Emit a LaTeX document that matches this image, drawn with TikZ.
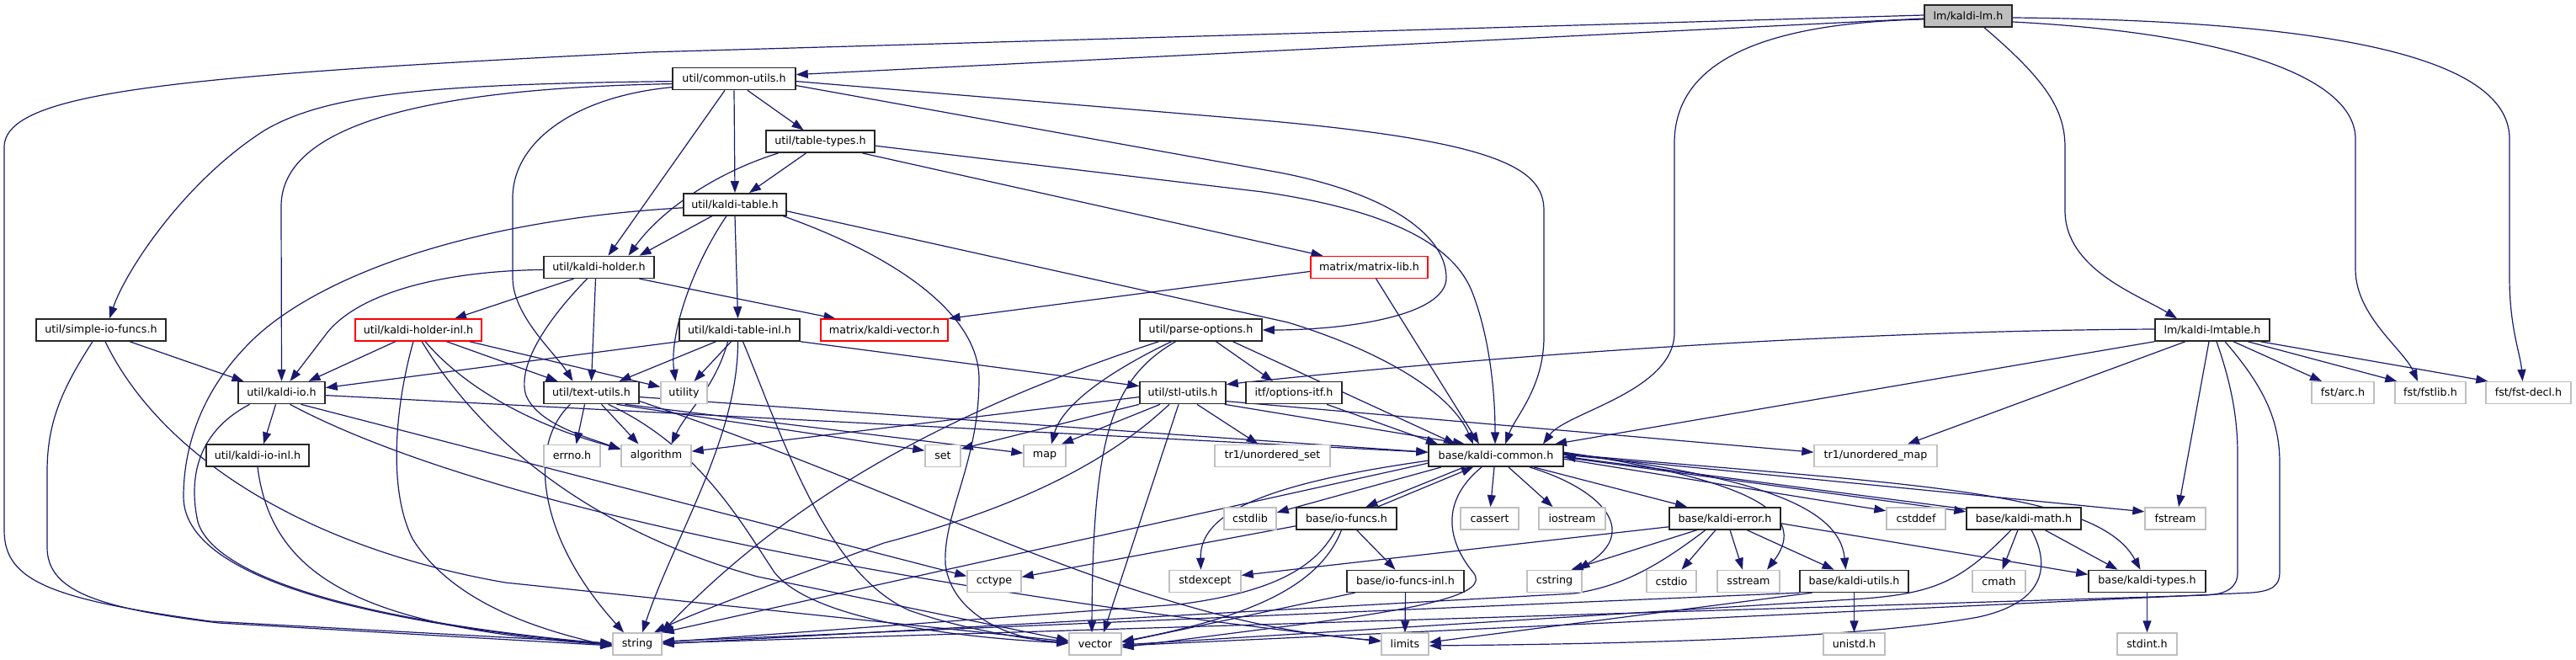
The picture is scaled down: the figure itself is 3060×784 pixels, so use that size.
\documentclass[tikz,border=0pt]{standalone}
\usepackage{fontspec}
\setmainfont{DejaVu Sans}
\usetikzlibrary{arrows.meta}
\definecolor{edgec}{HTML}{191970}
\definecolor{greyb}{HTML}{BFBFBF}
\pgfdeclarelayer{bg}
\pgfdeclarelayer{paper}
\pgfsetlayers{paper,bg,main}
\begin{document}
\begin{tikzpicture}[x=1pt,y=-1pt,
  box/.style={rectangle, inner sep=0pt, minimum height=26pt, font=\fontsize{12.7}{15}\selectfont, fill=white},
  wd/.style={minimum width=#1pt},
  nb/.style={box, draw=black!85, line width=1.5pt},
  nr/.style={box, draw=red, line width=1.1pt},
  ng/.style={box, draw=greyb, line width=1.4pt},
  nl/.style={box, draw=black!85, fill=greyb, line width=1.5pt},
  lnk/.style={draw=edgec, line width=1.2pt, -{Triangle[length=14pt,width=10pt]}}]
\begin{pgfonlayer}{paper}
\fill[white] (0,0) rectangle (3060,784);
\end{pgfonlayer}
\useasboundingbox (0,0) rectangle (3060,784);
% nodes
\node[nl, wd=104] (lm) at (2338,19) {lm/kaldi-lm.h};
\node[nb, wd=146] (cu) at (872,93.6) {util/common-utils.h};
\node[nb, wd=129] (tt) at (974.5,168.2) {util/table-types.h};
\node[nb, wd=122] (kt) at (873,242.8) {util/kaldi-table.h};
\node[nb, wd=131] (kh) at (711.5,317.4) {util/kaldi-holder.h};
\node[nr, wd=139] (ml) at (1626.5,317.4) {matrix/matrix-lib.h};
\node[nb, wd=154] (sio) at (120,392) {util/simple-io-funcs.h};
\node[nr, wd=150] (khi) at (497,392) {util/kaldi-holder-inl.h};
\node[nb, wd=143] (kti) at (878.5,392) {util/kaldi-table-inl.h};
\node[nr, wd=151] (kv) at (1050.5,392) {matrix/kaldi-vector.h};
\node[nb, wd=145] (po) at (1426.5,392) {util/parse-options.h};
\node[nb, wd=136] (lmt) at (2628,392) {lm/kaldi-lmtable.h};
\node[nb, wd=103] (kio) at (334.5,466.6) {util/kaldi-io.h};
\node[nb, wd=113] (tu) at (702.5,466.6) {util/text-utils.h};
\node[ng, wd=55] (util) at (812.5,466.6) {utility};
\node[nb, wd=102] (stl) at (1405,466.6) {util/stl-utils.h};
\node[nb, wd=114] (itf) at (1537,466.6) {itf/options-itf.h};
\node[ng, wd=74] (arc) at (2783,466.6) {fst/arc.h};
\node[ng, wd=84] (fstlib) at (2887,466.6) {fst/fstlib.h};
\node[ng, wd=101] (fdecl) at (3003.5,466.6) {fst/fst-decl.h};
\node[nb, wd=122] (kioi) at (306,541.2) {util/kaldi-io-inl.h};
\node[ng, wd=67] (errno) at (679.5,541.2) {errno.h};
\node[ng, wd=83] (algo) at (779.5,541.2) {algorithm};
\node[ng, wd=42] (set) at (1120,541.2) {set};
\node[ng, wd=50] (map) at (1241,541.2) {map};
\node[ng, wd=137] (tus) at (1511.5,541.2) {tr1/unordered\_set};
\node[nb, wd=160] (kc) at (1777,541.2) {base/kaldi-common.h};
\node[ng, wd=146] (tum) at (2228,541.2) {tr1/unordered\_map};
\node[ng, wd=62] (cstdlib) at (1485,615.8) {cstdlib};
\node[nb, wd=119] (iof) at (1599.5,615.8) {base/io-funcs.h};
\node[ng, wd=69] (cassert) at (1769.5,615.8) {cassert};
\node[ng, wd=79] (iostream) at (1867.5,615.8) {iostream};
\node[nb, wd=132] (ke) at (2049,615.8) {base/kaldi-error.h};
\node[ng, wd=70] (cstddef) at (2276,615.8) {cstddef};
\node[nb, wd=136] (km) at (2404,615.8) {base/kaldi-math.h};
\node[ng, wd=72] (fstream) at (2584,615.8) {fstream};
\node[ng, wd=64] (cctype) at (1181,690.4) {cctype};
\node[ng, wd=85] (stdexcept) at (1431.5,690.4) {stdexcept};
\node[nb, wd=139] (iofi) at (1669.5,690.4) {base/io-funcs-inl.h};
\node[ng, wd=65] (cstring) at (1846.5,690.4) {cstring};
\node[ng, wd=59] (cstdio) at (1985.5,690.4) {cstdio};
\node[ng, wd=74] (sstream) at (2077,690.4) {sstream};
\node[nb, wd=129] (ku) at (2202.5,690.4) {base/kaldi-utils.h};
\node[ng, wd=63] (cmath) at (2374.5,690.4) {cmath};
\node[nb, wd=139] (kty) at (2550.5,690.4) {base/kaldi-types.h};
\node[ng, wd=58] (string) at (757,765) {string};
\node[ng, wd=62] (vector) at (1301,765) {vector};
\node[ng, wd=56] (limits) at (1669,765) {limits};
\node[ng, wd=73] (unistd) at (2202.5,765) {unistd.h};
\node[ng, wd=71] (stdint) at (2550.5,765) {stdint.h};
\begin{pgfonlayer}{bg}
% lm
\draw[lnk] ([yshift=-3]lm.west) -- ([yshift=5]cu.east);
\draw[lnk] ([yshift=1]lm.west) -- (770,62) .. controls (200,90) and (5,110) .. (5,175) -- (5,630) .. controls (5,690) and (60,712) .. (250,738) -- ([yshift=1]string.west);
\draw[lnk] ([yshift=-4]lm.west) .. controls (2060,28) and (1989,90) .. (1989,170) -- (1989,395) .. controls (1989,465) and (1860,490) .. ([xshift=56]kc.north);
\draw[lnk] ([xshift=19]lm.south) .. controls (2430,95) and (2453,130) .. (2453,175) -- (2453,250) .. controls (2453,320) and (2540,350) .. ([xshift=-42]lmt.north);
\draw[lnk] ([yshift=-7]lm.east) .. controls (2660,40) and (2798,95) .. (2798,165) -- (2798,320) .. controls (2798,375) and (2855,415) .. ([xshift=-15]fstlib.north);
\draw[lnk] ([yshift=-2]lm.east) .. controls (2820,25) and (2981,80) .. (2981,165) -- (2981,330) .. controls (2981,390) and (2994,420) .. ([xshift=-7]fdecl.north);
% common-utils
\draw[lnk] ([yshift=-3]cu.west) .. controls (520,100) and (390,110) .. (314,155) .. controls (220,215) and (150,320) .. ([xshift=10]sio.north);
\draw[lnk] ([yshift=-6]cu.west) .. controls (500,105) and (334,150) .. (334,245) -- (kio.north);
\draw[lnk] ([yshift=-10]cu.west) .. controls (680,115) and (609,170) .. (609,235) -- (609,330) .. controls (609,375) and (660,420) .. ([xshift=-22]tu.north);
\draw[lnk] ([xshift=-11]cu.south) -- ([xshift=11]kh.north);
\draw[lnk] (cu.south) -- (kt.north);
\draw[lnk] ([xshift=16]cu.south) -- ([xshift=-20]tt.north);
\draw[lnk] ([yshift=-3]cu.east) -- (1500,143) .. controls (1780,168) and (1834,200) .. (1834,250) -- (1834,400) .. controls (1834,460) and (1800,495) .. ([xshift=11]kc.north);
\draw[lnk] ([yshift=-8]cu.east) -- (1520,205) .. controls (1650,230) and (1718,280) .. (1718,330) .. controls (1718,375) and (1600,392) .. (po.east);
% table-types
\draw[lnk] ([xshift=-50]tt.south) .. controls (850,205) and (785,250) .. ([xshift=35]kh.north);
\draw[lnk] ([xshift=-17]tt.south) -- ([xshift=17]kt.north);
\draw[lnk] ([xshift=50]tt.south) -- ([xshift=-55]ml.north);
\draw[lnk] ([yshift=-5]tt.east) -- (1500,228) .. controls (1650,250) and (1725,290) .. (1748,345) .. controls (1768,395) and (1776,460) .. ([xshift=-1]kc.north);
% kaldi-table
\draw[lnk] ([yshift=-4]kt.west) .. controls (550,262) and (380,330) .. (304,400) .. controls (240,460) and (218,530) .. (218,590) .. controls (218,700) and (500,745) .. ([yshift=-1]string.west);
\draw[lnk] ([xshift=-27]kt.south) -- ([xshift=48]kh.north);
\draw[lnk] ([xshift=-10]kt.south) .. controls (820,320) and (795,400) .. ([xshift=-10]util.north);
\draw[lnk] (kt.south) -- ([xshift=-2]kti.north);
\draw[lnk] ([xshift=57]kt.south) .. controls (1080,310) and (1163,380) .. (1163,450) .. controls (1163,550) and (1120,610) .. (1123,670) .. controls (1130,730) and (1200,760) .. ([yshift=2]vector.west);
\draw[lnk] ([yshift=-8]kt.east) -- (1530,383) .. controls (1650,420) and (1725,470) .. ([xshift=-27]kc.north);
% kaldi-holder
\draw[lnk] ([yshift=-3]kh.west) .. controls (520,322) and (420,350) .. (385,400) -- ([xshift=10]kio.north);
\draw[lnk] ([xshift=-30]kh.south) -- ([xshift=43]khi.north);
\draw[lnk] ([xshift=-14]kh.south) .. controls (640,390) and (615,440) .. (625,470) .. controls (640,505) and (700,520) .. ([yshift=7]algo.west);
\draw[lnk] ([xshift=-4]kh.south) -- (tu.north);
\draw[lnk] ([xshift=48]kh.south) -- ([xshift=-58]kv.north);
% matrix-lib
\draw[lnk] ([yshift=-5]ml.west) -- (kv.north east);
\draw[lnk] ([xshift=8]ml.south) -- ([xshift=-20]kc.north);
% simple-io-funcs
\draw[lnk] ([xshift=34]sio.south) -- ([xshift=-45]kio.north);
\draw[lnk] ([xshift=-10]sio.south) .. controls (75,460) and (56,500) .. (56,560) -- (56,650) .. controls (56,700) and (110,722) .. (260,740) -- ([yshift=-2]string.west);
\draw[lnk] ([xshift=5]sio.south) .. controls (190,540) and (360,650) .. (600,692) -- ([yshift=3]vector.west);
% kaldi-holder-inl
\draw[lnk] ([xshift=-27]khi.south) -- ([xshift=32]kio.north);
\draw[lnk] ([xshift=-6]khi.south) .. controls (470,480) and (460,580) .. (490,640) .. controls (540,720) and (650,750) .. ([yshift=-3]string.west);
\draw[lnk] ([xshift=4]khi.south) .. controls (570,520) and (700,630) .. (900,685) -- ([yshift=4]vector.west);
\draw[lnk] ([xshift=8]khi.south) .. controls (560,470) and (650,510) .. ([yshift=8]algo.west);
\draw[lnk] ([xshift=33]khi.south) -- ([xshift=-40]tu.north);
\draw[lnk] ([xshift=60]khi.south) -- ([yshift=7]util.west);
% kaldi-table-inl
\draw[lnk] (kti.south west) -- ([yshift=6]kio.east);
\draw[lnk] ([xshift=-28]kti.south) -- ([xshift=33]tu.north);
\draw[lnk] ([xshift=-10]kti.south) -- ([xshift=12]util.north);
\draw[lnk] ([xshift=-14]kti.south) .. controls (850,460) and (815,490) .. ([xshift=18]algo.north);
\draw[lnk] ([xshift=-2]kti.south) .. controls (877,520) and (800,640) .. ([xshift=6]string.north);
\draw[lnk] ([xshift=4]kti.south) .. controls (930,520) and (980,680) .. (1080,725) .. controls (1150,750) and (1230,760) .. ([yshift=1]vector.west);
\draw[lnk] (kti.south east) -- ([yshift=8]stl.west);
% kaldi-io
\draw[lnk] ([xshift=-7]kio.south) -- ([xshift=7]kioi.north);
\draw[lnk] ([xshift=-38]kio.south) .. controls (240,510) and (222,560) .. (235,620) .. controls (260,700) and (500,745) .. (string.west);
\draw[lnk] ([yshift=-3]kio.east) -- ([yshift=4]kc.west);
\draw[lnk] ([xshift=23]kio.south) -- ([yshift=6]cctype.west);
\draw[lnk] ([xshift=10]kio.south) .. controls (550,590) and (1000,690) .. ([yshift=3]limits.west);
\draw[lnk] (kioi.south) .. controls (322,680) and (420,745) .. ([yshift=-1]string.west);
% text-utils
\draw[lnk] ([xshift=-25]tu.south) .. controls (625,530) and (640,640) .. ([xshift=-16]string.north);
\draw[lnk] ([xshift=-8]tu.south) -- ([xshift=5]errno.north);
\draw[lnk] ([xshift=12]tu.south) -- ([xshift=-21]algo.north);
\draw[lnk] ([xshift=30]tu.south) -- ([yshift=6]set.west);
\draw[lnk] ([xshift=40]tu.south) -- ([yshift=3]map.west);
\draw[lnk] ([yshift=-5]tu.east) -- ([yshift=4]kc.west);
\draw[lnk] ([yshift=-10]tu.east) .. controls (1100,590) and (1350,740) .. ([yshift=4]limits.west);
\draw[lnk] ([xshift=20]tu.south) .. controls (830,530) and (880,620) .. (920,680) .. controls (960,730) and (1100,755) .. ([yshift=1]vector.west);
% stl-utils
\draw[lnk] ([yshift=-5]stl.west) -- ([yshift=5]algo.east);
\draw[lnk] (stl.south west) -- ([yshift=8]set.east);
\draw[lnk] ([xshift=-27]stl.south) -- ([xshift=20]map.north);
\draw[lnk] ([xshift=-16]stl.south) .. controls (1320,545) and (1220,600) .. (1050,645) .. controls (900,700) and (820,730) .. ([xshift=20]string.north);
\draw[lnk] ([xshift=-5]stl.south) -- ([xshift=10]vector.north);
\draw[lnk] ([xshift=17]stl.south) -- ([xshift=-17]tus.north);
\draw[lnk] ([xshift=-2]stl.south east) -- ([xshift=-37]kc.north);
\draw[lnk] ([yshift=-10]stl.east) -- ([yshift=4]tum.west);
% parse-options
\draw[lnk] ([xshift=-35]po.south) .. controls (1320,440) and (1262,480) .. ([xshift=8]map.north);
\draw[lnk] ([xshift=-50]po.south) .. controls (1150,480) and (950,580) .. ([xshift=29]string.north);
\draw[lnk] ([xshift=-30]po.south) .. controls (1320,450) and (1298,520) .. ([xshift=-4]vector.north);
\draw[lnk] ([xshift=18]po.south) -- ([xshift=-25]itf.north);
\draw[lnk] ([xshift=38]po.south) -- ([xshift=-48]kc.north);
\draw[lnk] ([xshift=39]itf.south) -- ([xshift=-69]kc.north);
% lmtable
\draw[lnk] ([yshift=1]lmt.west) .. controls (2200,393) and (1800,420) .. ([yshift=10]stl.east);
\draw[lnk] (lmt.south west) -- ([xshift=70]kc.north);
\draw[lnk] ([xshift=-32]lmt.south) -- ([xshift=38]tum.north);
\draw[lnk] ([xshift=-4]lmt.south) -- ([xshift=4]fstream.north);
\draw[lnk] ([xshift=5]lmt.south) .. controls (2652,460) and (2658,500) .. (2658,540) -- (2658,680) .. controls (2658,698) and (2645,706) .. (2620,707) -- ([yshift=1]string.east);
\draw[lnk] ([xshift=15]lmt.south) .. controls (2690,460) and (2708,500) .. (2708,550) -- (2708,680) .. controls (2708,695) and (2700,702) .. (2675,704) -- ([yshift=-2]vector.east);
\draw[lnk] ([xshift=25]lmt.south) -- ([xshift=-25]arc.north);
\draw[lnk] ([xshift=42]lmt.south) -- ([xshift=3]fstlib.north west);
\draw[lnk] ([xshift=57]lmt.south) -- ([xshift=3]fdecl.north west);
% kaldi-common
\draw[lnk] ([xshift=-65]kc.south) -- ([yshift=7]cstdlib.east);
\draw[lnk] ([xshift=-38]kc.south) -- ([xshift=23]iof.north);
\draw[lnk] ([xshift=37]iof.north) -- ([xshift=-27]kc.south);
\draw[lnk] ([xshift=-2]kc.south) -- ([xshift=1]cassert.north);
\draw[lnk] ([xshift=15]kc.south) -- ([xshift=-23]iostream.north);
\draw[lnk] ([xshift=45]kc.south) -- ([xshift=-45]ke.north);
\draw[lnk] ([xshift=40]kc.south) .. controls (1900,580) and (1950,630) .. ([xshift=28]cstring.north);
\draw[lnk] ([xshift=-17]kc.south) .. controls (1705,600) and (1725,650) .. (1750,680) .. controls (1770,705) and (1700,722) .. (1520,745) -- ([yshift=-4]vector.east);
\draw[lnk] ([yshift=-6]kc.west) .. controls (1500,575) and (1425,610) .. ([xshift=-5]stdexcept.north);
\draw[lnk] ([yshift=-9]kc.west) -- (string.north east);
\draw[lnk] ([yshift=-4]kc.east) -- ([yshift=9]cstddef.west);
\draw[lnk] ([yshift=-2]kc.east) -- ([yshift=8]km.west);
\draw[lnk] ([yshift=11]km.west) -- ([yshift=-1]kc.east);
\draw[lnk] ([yshift=1]kc.east) -- ([yshift=8]fstream.west);
\draw[lnk] ([yshift=2]kc.east) .. controls (2250,575) and (2490,580) .. ([xshift=-8]kty.north);
\draw[lnk] ([yshift=3]kc.east) .. controls (2080,565) and (2185,600) .. ([xshift=-10]ku.north);
\draw[lnk] ([yshift=4]kc.east) .. controls (2080,570) and (2150,610) .. ([xshift=22]sstream.north);
% io-funcs
\draw[lnk] ([yshift=-9]iof.west) -- ([yshift=5]cctype.east);
\draw[lnk] ([xshift=-13]iof.south) .. controls (1560,680) and (1500,705) .. (1400,718) -- ([yshift=2]string.east);
\draw[lnk] ([xshift=-6]iof.south) .. controls (1570,690) and (1500,730) .. ([yshift=3]vector.east);
\draw[lnk] ([xshift=12]iof.south) -- ([xshift=-12]iofi.north);
\draw[lnk] (iofi.south) -- (limits.north);
\draw[lnk] ([xshift=-60]iofi.south) -- ([yshift=2]vector.east);
% kaldi-error
\draw[lnk] ([yshift=-10]ke.west) -- ([yshift=7]stdexcept.east);
\draw[lnk] ([xshift=-33]ke.south) -- ([xshift=20]cstring.north);
\draw[lnk] ([xshift=-23]ke.south) .. controls (1960,680) and (1920,697) .. (1870,705) -- (string.east);
\draw[lnk] ([xshift=-11]ke.south) -- ([xshift=12]cstdio.north);
\draw[lnk] ([xshift=6]ke.south) -- ([xshift=-7]sstream.north);
\draw[lnk] ([xshift=26]ke.south) -- ([xshift=-24]ku.north);
\draw[lnk] ([yshift=-6]ke.east) -- ([yshift=8]kty.west);
% kaldi-utils
\draw[lnk] (ku.south west) -- ([yshift=3]string.east);
\draw[lnk] ([xshift=-50]ku.south) -- ([yshift=2]limits.east);
\draw[lnk] (ku.south) -- (unistd.north);
% kaldi-math
\draw[lnk] ([xshift=-15]km.south) .. controls (2330,690) and (2300,706) .. (2200,712) -- ([yshift=-1]vector.east);
\draw[lnk] ([xshift=-7]km.south) -- ([xshift=4]cmath.north);
\draw[lnk] ([xshift=9]km.south) .. controls (2435,670) and (2432,715) .. (2350,733) .. controls (2200,760) and (1900,765) .. ([yshift=-2]limits.east);
\draw[lnk] ([xshift=25]km.south) -- ([xshift=-35]kty.north);
% kaldi-types
\draw[lnk] (kty.south) -- (stdint.north);
\end{pgfonlayer}
\end{tikzpicture}
\end{document}
